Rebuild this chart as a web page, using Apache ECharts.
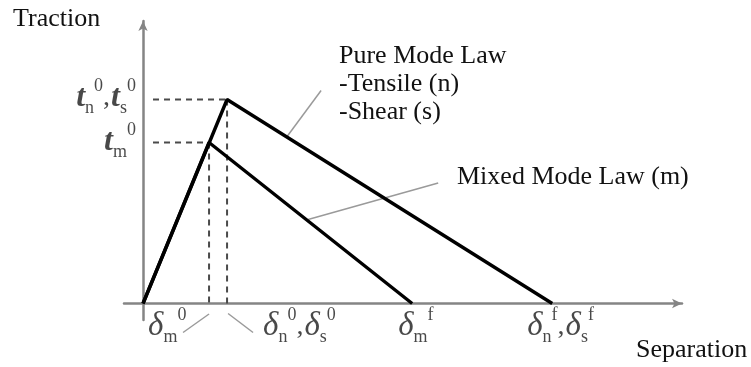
<!DOCTYPE html>
<html><head><meta charset="utf-8">
<script src="https://cdn.jsdelivr.net/npm/echarts@6/dist/echarts.min.js"></script>
<style>html,body{margin:0;padding:0;background:#fff}#c{width:751px;height:367px}</style>
</head><body><div id="c"></div>
<script>
// ---------- values (schematic units) ----------
const pureX  = [0, 0.84, 4.09];      // separation, pure mode law
const pureY  = [0, 2.04, 0];         // traction, pure mode law
const mixedX = [0, 0.66, 2.69];      // separation, mixed mode law
const mixedY = [0, 1.61, 0];         // traction, mixed mode law
const xRange = [-0.19, 5.387];
const yRange = [-0.165, 2.825];
const dashStartX = 0.1;
const xTickValues = [mixedX[1], pureX[1], mixedX[2], pureX[2]];
const xTickLabels = [
  '{d|δ}{sub|m}{sup|0}',
  '{d|δ}{sub|n}{sup|0}{c|,}{d|δ}{sub|s}{sup|0}',
  '{d|δ}{sub|m}{sup|f}',
  '{d|δ}{sub|n}{sup|f}{c|,}{d|δ}{sub|s}{sup|f}'
];
const yTickValues = [pureY[1], mixedY[1]];
const yTickLabels = [
  '{t|t}{sub|n}{sup|0}{c|,}{t|t}{sub|s}{sup|0}',
  '{t|t}{sub|m}{sup|0}'
];
const pureLeader  = [[1.44, 1.67], [1.78, 2.13]];
const mixedLeader = [[1.65, 0.84], [2.95, 1.205]];
const slashM0 = [[0.40, -0.29], [0.66, -0.105]];
const slashN0 = [[0.85, -0.10], [1.10, -0.29]];
const axisNames = ['Separation', 'Traction'];
const lawLabels = ['Pure Mode Law\n-Tensile (n)\n-Shear (s)', 'Mixed Mode Law (m)'];

// ---------- layout / style ----------
const FONT = '"Liberation Serif", "Times New Roman", serif';
const xLabelOffsets = [[-61, 3], [36, 3], [-14, 3], [-25, 3]];
const yLabelOffsets = [[-7, -2], [-7, -1]];
const INK = '#1a1a1a';
const rich = {
  d:   {fontFamily: FONT, fontStyle: 'italic', fontSize: 33, lineHeight: 40, color: INK},
  t:   {fontFamily: FONT, fontStyle: 'italic', fontWeight: 'bold', fontSize: 32, lineHeight: 40, color: INK},
  c:   {fontFamily: FONT, fontSize: 28, lineHeight: 40, color: INK, padding: [0, 1, 0, 0]},
  sub: {fontFamily: FONT, fontSize: 18, lineHeight: 18, verticalAlign: 'bottom', color: INK},
  sup: {fontFamily: FONT, fontSize: 18, lineHeight: 22, verticalAlign: 'top', color: INK}
};
const pairs = (xs, ys) => xs.map((x, i) => [x, ys[i]]);
const axisStyle = {color: '#858585', width: 2.5};
const dashStyle = {color: '#4a4a4a', width: 2, type: [6, 5]};
const leaderStyle = {color: '#9a9a9a', width: 1.5};

function lineSeries(data, style) {
  return {type: 'line', data, symbol: 'none', clip: false, silent: true,
          lineStyle: style, animation: false, z: 3};
}

const chart = echarts.init(document.getElementById('c'), null, {renderer: 'canvas'});
chart.setOption({
  backgroundColor: '#fff',
  animation: false,
  grid: {left: 124, right: 69, top: 21, bottom: 47},
  xAxis: {
    type: 'value', min: xRange[0], max: xRange[1],
    axisLine: {onZero: true, symbol: ['none', 'arrow'], symbolSize: [7, 10], lineStyle: axisStyle},
    axisTick: {show: false}, axisLabel: {show: false}, splitLine: {show: false}
  },
  yAxis: {
    type: 'value', min: yRange[0], max: yRange[1],
    axisLine: {onZero: true, symbol: ['none', 'arrow'], symbolSize: [7, 10], lineStyle: axisStyle},
    axisTick: {show: false}, axisLabel: {show: false}, splitLine: {show: false}
  },
  series: [
    lineSeries([[dashStartX, pureY[1]], [pureX[1], pureY[1]]], dashStyle),
    lineSeries([[pureX[1], pureY[1]], [pureX[1], 0]], dashStyle),
    lineSeries([[dashStartX, mixedY[1]], [mixedX[1], mixedY[1]]], dashStyle),
    lineSeries([[mixedX[1], mixedY[1]], [mixedX[1], 0]], dashStyle),
    lineSeries(pureLeader, leaderStyle),
    lineSeries(mixedLeader, leaderStyle),
    lineSeries(slashM0, leaderStyle),
    lineSeries(slashN0, leaderStyle),
    Object.assign(lineSeries(pairs(pureX, pureY), {color: '#000', width: 3.4}), {z: 5}),
    Object.assign(lineSeries(pairs(mixedX, mixedY), {color: '#000', width: 3.4}), {z: 5}),
    {
      type: 'scatter', silent: true, symbolSize: 1, itemStyle: {color: 'transparent'}, z: 6,
      data: xTickValues.map((v, i) => ({
        value: [v, 0],
        label: {show: true, formatter: xTickLabels[i], position: 'inside', align: 'left',
                verticalAlign: 'top', offset: xLabelOffsets[i], rich}
      })).concat(yTickValues.map((v, i) => ({
        value: [0, v],
        label: {show: true, formatter: yTickLabels[i], position: 'inside', align: 'right',
                verticalAlign: 'middle', offset: yLabelOffsets[i], rich}
      })))
    }
  ],
  graphic: [
    {type: 'text', x: 13, y: 6, style: {text: axisNames[1], font: '26px ' + FONT, fill: '#111', verticalAlign: 'top'}},
    {type: 'text', x: 636, y: 337, style: {text: axisNames[0], font: '26px ' + FONT, fill: '#111', verticalAlign: 'top'}},
    {type: 'text', x: 339, y: 42, style: {text: lawLabels[0], font: '26px ' + FONT, lineHeight: 28, fill: '#111', verticalAlign: 'top'}},
    {type: 'text', x: 457, y: 164, style: {text: lawLabels[1], font: '26px ' + FONT, fill: '#111', verticalAlign: 'top'}}
  ]
});
</script></body></html>
